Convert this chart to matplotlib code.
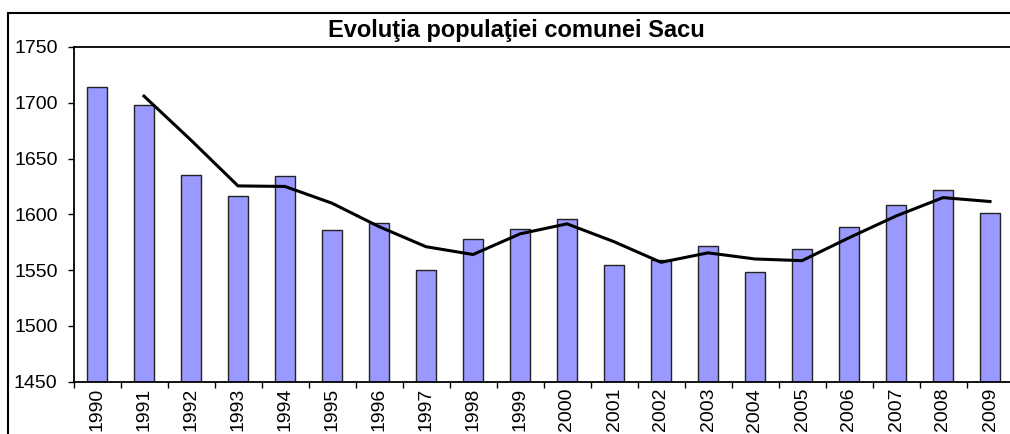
import numpy as np
import matplotlib.pyplot as plt
from matplotlib.patches import Rectangle

plt.rcParams['font.family'] = ['Liberation Sans', 'DejaVu Sans']

years = ['1990', '1991', '1992', '1993', '1994', '1995', '1996', '1997', '1998', '1999',
         '2000', '2001', '2002', '2003', '2004', '2005', '2006', '2007', '2008', '2009']
population = [1714, 1698, 1635, 1616, 1634, 1586, 1592, 1550, 1578, 1587,
              1596, 1555, 1559, 1572, 1548, 1569, 1589, 1608, 1622, 1601]
# trend line (starts at 1991)
trend_years = years[1:]
trend = [1706, 1666.5, 1625.5, 1625, 1610, 1589, 1571, 1564, 1582.5, 1591.5,
         1575.5, 1557, 1565.5, 1560, 1558.5, 1579, 1598.5, 1615, 1611.5]

fig = plt.figure(figsize=(10.10, 4.34), dpi=100)
ax = fig.add_axes([73.5 / 1010, 52.3 / 434, 940 / 1010, 334.7 / 434])

x = np.arange(len(years))
ax.bar(x, population, width=0.41, color='#9999ff', edgecolor='#222222', linewidth=1.0, zorder=2)
xt = np.arange(1, len(years))
ax.plot(xt, trend, color='black', linewidth=2.2, zorder=3)

ax.set_xlim(-0.5, len(years) - 0.5)
ax.set_ylim(1450, 1750)
ax.set_yticks(range(1450, 1751, 50))
ax.set_xticks(x)
ax.set_xticklabels(years, rotation=90, fontsize=14)
ax.tick_params(axis='x', length=0, pad=4.5)
ax.set_xticks(np.arange(-0.5, len(years), 1), minor=True)
ax.tick_params(axis='x', which='minor', length=4, width=1, color='black')
ax.tick_params(axis='y', length=4.5, width=1, labelsize=14, pad=7)
for s in ax.spines.values():
    s.set_linewidth(1.3)
    s.set_color('black')

fig.text(516 / 1010, 1 - 30 / 434, 'Evoluţia populaţiei comunei Sacu',
         ha='center', va='center', fontsize=17, fontweight='bold')

# outer chart border
fig.patches.append(Rectangle((8 / 1010, -0.1), 1.1, 1.1 - 13 / 434,
                             transform=fig.transFigure, fill=False,
                             edgecolor='black', linewidth=1.5))

fig.savefig('out.png', dpi=100)
